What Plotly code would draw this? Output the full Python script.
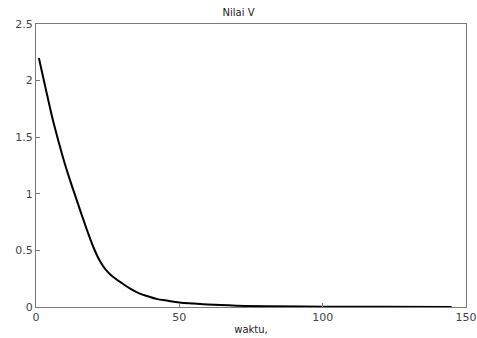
import plotly.graph_objects as go

# Sampled decay of V over time
waktu = [1, 4, 6, 8, 10, 12, 14, 16, 18, 20, 22, 24, 26, 28, 30, 33, 36, 39, 42, 46,
         50, 55, 60, 70, 80, 100, 120, 145]
nilai_v = [2.2, 1.86, 1.64, 1.45, 1.27, 1.11, 0.96, 0.81, 0.665, 0.53, 0.42, 0.34,
           0.285, 0.245, 0.21, 0.16, 0.12, 0.095, 0.072, 0.055, 0.04, 0.03, 0.021, 0.011,
           0.006, 0.003, 0.002, 0.001]

x_ticks = [0, 50, 100, 150]
y_ticks = [0, 0.5, 1, 1.5, 2, 2.5]

fig = go.Figure()
fig.add_trace(go.Scatter(x=waktu, y=nilai_v, mode="lines", line_shape="spline",
                         line=dict(color="black", width=2)))

axis_common = dict(
    showgrid=False, zeroline=False, showline=True, linecolor="#7a7a7a", linewidth=1,
    mirror=True, ticks="inside", ticklen=4, tickcolor="#7a7a7a", automargin=False,
    tickfont=dict(family="DejaVu Sans", size=11, color="#444444"),
)

fig.update_layout(
    width=477, height=338,
    margin=dict(l=36, r=11, t=24, b=31),
    paper_bgcolor="white", plot_bgcolor="white",
    showlegend=False,
    title=dict(text="Nilai V", x=0.5, xanchor="center", y=1 - 12 / 338, yanchor="middle",
               font=dict(family="DejaVu Sans", size=10, color="#222222")),
    xaxis=dict(range=[0, 150], tickvals=x_ticks, ticktext=[str(v) for v in x_ticks],
               title=dict(text="waktu,", standoff=2,
                          font=dict(family="DejaVu Sans", size=10, color="#222222")),
               **axis_common),
    yaxis=dict(range=[0, 2.5], tickvals=y_ticks, ticktext=[f"{v:g}" for v in y_ticks],
               **axis_common),
)

fig.write_html("out.html")
